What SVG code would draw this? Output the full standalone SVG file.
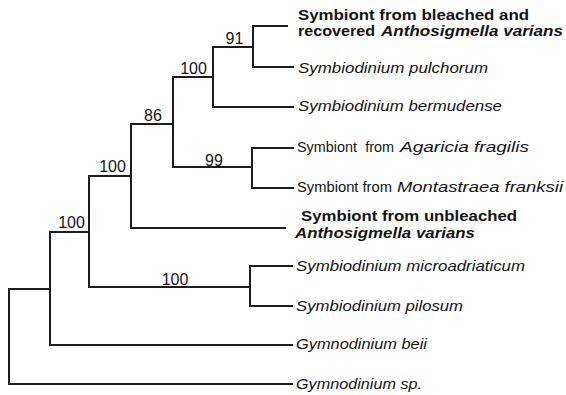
<svg xmlns="http://www.w3.org/2000/svg" width="566" height="395" viewBox="0 0 566 395">
<style>
.br{fill:none;stroke:#1c1c1c;stroke-width:2;stroke-linejoin:miter;stroke-linecap:square}
text{font-family:"Liberation Sans",Arial,sans-serif;fill:#141414;font-size:15.5px}
.it{font-style:italic}
.b{font-weight:bold}
.bi{font-weight:bold;font-style:italic}
.bs{font-size:16px;text-anchor:middle}
</style>
<rect width="566" height="395" fill="#fff"/>
<g id="connectors">
<path class="br" d="M9,289 H50 M9,289 V384 H292"/>
<path class="br" d="M50,289 V232 H89 M50,289 V345 H292"/>
<path class="br" d="M89,232 V176 H131 M89,232 V287 H250"/>
<path class="br" d="M131,176 V124 H173 M131,176 V228 H285"/>
<path class="br" d="M173,124 V77 H213 M173,124 V167 H252"/>
<path class="br" d="M213,77 V47 H253 M213,77 V107 H293"/>
<path class="br" d="M253,47 V26 H287 M253,47 V67 H293"/>
<path class="br" d="M252,167 V148 H293 M252,167 V188 H293"/>
<path class="br" d="M250,287 V266 H292 M250,287 V306 H292"/>
</g>
<g id="bootstrap-91"><text class="bs" x="234.5" y="44">91</text></g>
<g id="bootstrap-100a"><text class="bs" x="193.5" y="74">100</text></g>
<g id="bootstrap-86"><text class="bs" x="153" y="121">86</text></g>
<g id="bootstrap-99"><text class="bs" x="214" y="166">99</text></g>
<g id="bootstrap-100b"><text class="bs" x="112.5" y="172">100</text></g>
<g id="bootstrap-100c"><text class="bs" x="71.5" y="228">100</text></g>
<g id="bootstrap-100d"><text class="bs" x="175" y="285">100</text></g>
<g id="leaf-bleached-recovered">
<text class="b" x="298" y="20" textLength="231" lengthAdjust="spacingAndGlyphs">Symbiont from bleached and</text>
<text class="b" x="298" y="36" textLength="77" lengthAdjust="spacingAndGlyphs">recovered</text>
<text class="bi" x="381" y="36" textLength="182" lengthAdjust="spacingAndGlyphs">Anthosigmella varians</text>
</g>
<g id="leaf-pulchorum"><text class="it" x="298" y="73" textLength="190" lengthAdjust="spacingAndGlyphs">Symbiodinium pulchorum</text></g>
<g id="leaf-bermudense"><text class="it" x="298" y="111" textLength="204" lengthAdjust="spacingAndGlyphs">Symbiodinium bermudense</text></g>
<g id="leaf-agaricia">
<text x="297" y="152" textLength="97" lengthAdjust="spacingAndGlyphs" xml:space="preserve">Symbiont  from</text>
<text class="it" x="400" y="152" textLength="129" lengthAdjust="spacingAndGlyphs">Agaricia fragilis</text>
</g>
<g id="leaf-montastraea">
<text x="297" y="192" textLength="95" lengthAdjust="spacingAndGlyphs">Symbiont from</text>
<text class="it" x="397" y="192" textLength="166" lengthAdjust="spacingAndGlyphs">Montastraea franksii</text>
</g>
<g id="leaf-unbleached">
<text class="b" x="301" y="221" textLength="216" lengthAdjust="spacingAndGlyphs">Symbiont from unbleached</text>
<text class="bi" x="295" y="238" textLength="180" lengthAdjust="spacingAndGlyphs">Anthosigmella varians</text>
</g>
<g id="leaf-microadriaticum"><text class="it" x="296" y="271" textLength="229" lengthAdjust="spacingAndGlyphs">Symbiodinium microadriaticum</text></g>
<g id="leaf-pilosum"><text class="it" x="296" y="311" textLength="167" lengthAdjust="spacingAndGlyphs">Symbiodinium pilosum</text></g>
<g id="leaf-beii"><text class="it" x="296" y="349" textLength="131" lengthAdjust="spacingAndGlyphs">Gymnodinium beii</text></g>
<g id="leaf-sp"><text class="it" x="296" y="389" textLength="126" lengthAdjust="spacingAndGlyphs">Gymnodinium sp.</text></g>
</svg>
